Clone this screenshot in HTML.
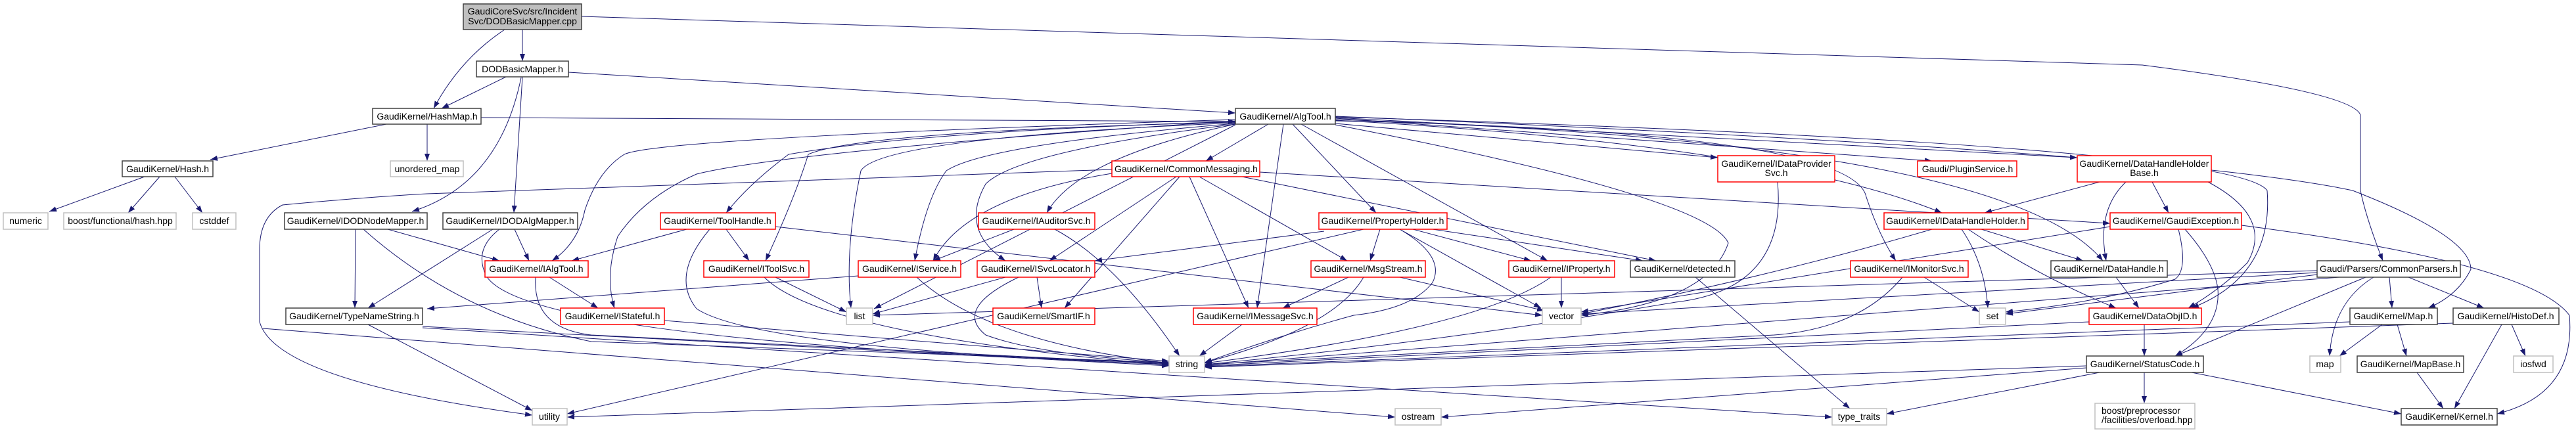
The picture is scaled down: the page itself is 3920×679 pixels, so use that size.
<!DOCTYPE html>
<html><head><meta charset="utf-8"><style>
html,body{margin:0;padding:0;background:#fff;}
svg{display:block;}
text{font-family:"Liberation Sans",sans-serif;font-size:14px;fill:#000;}
</style></head><body>
<svg width="3920" height="679" viewBox="0 0 3920 679" xmlns="http://www.w3.org/2000/svg">
<defs><marker id="a" markerWidth="11" markerHeight="8" refX="11" refY="4" orient="auto" markerUnits="userSpaceOnUse"><path d="M0,0 L11,4 L0,8 z" fill="#191970"/></marker></defs>
<g fill="none" stroke="#191970" stroke-width="1" marker-end="url(#a)">
<!-- cpp -->
<path d="M768,45 Q700,90 660,165"/>
<path d="M795,45 L795,93"/>
<path d="M885,25 L3260,99 Q3580,140 3592,175 L3592,290 Q3600,330 3626,397"/>
<!-- DOD h -->
<path d="M770,117 L672,165"/>
<path d="M865,110 L1880,172"/>
<path d="M793,118 Q760,280 627,322"/>
<path d="M795,117 L782,324"/>
<!-- HashMap -->
<path d="M588,189 L320,243"/>
<path d="M650,189 L650,245"/>
<path d="M732,179 L1880,185"/>
<!-- Hash -->
<path d="M220,269 L75,322"/>
<path d="M243,269 L195,324"/>
<path d="M266,269 L308,324"/>
<!-- AlgTool -->
<path d="M1880,182 Q1000,210 950,235 Q910,260 890,320 Q880,370 840,397"/>
<path d="M1880,184 Q1200,230 1060,265 Q980,300 940,360 Q920,420 935,469"/>
<path d="M1880,185 Q1400,200 1200,235 Q1140,280 1105,324"/>
<path d="M1880,186 Q1310,200 1230,235 Q1210,300 1165,397"/>
<path d="M1880,187 Q1340,210 1310,260 Q1285,380 1295,469"/>
<path d="M1880,188 Q1500,220 1440,260 Q1410,300 1392,397"/>
<path d="M1880,189 Q1550,230 1500,280 Q1460,350 1530,397"/>
<path d="M1880,189 Q1640,240 1593,324"/>
<path d="M1930,189 L1835,245"/>
<path d="M1953,189 L1913,469"/>
<path d="M1967,189 L2094,324"/>
<path d="M1980,189 L2355,397"/>
<path d="M2032,188 L2614,240"/>
<path d="M2032,180 L2940,245"/>
<path d="M2032,179 L3161,240"/>
<path d="M2032,183 Q2700,220 2955,324"/>
<path d="M2032,184 Q2820,200 2840,300 Q2860,360 2885,397"/>
<path d="M2032,182 Q3050,215 3200,397"/>
<path d="M2032,178 Q3400,220 3450,290 Q3460,420 3335,469"/>
<path d="M2032,177 Q3300,230 3580,290 Q3760,360 3760,410 Q3740,450 3695,469"/>
<path d="M2032,190 Q2600,300 2630,370 Q2600,460 2406,480"/>
<path d="M1880,190 L1330,470"/>
<!-- CommonMessaging -->
<path d="M1692,264 Q1470,300 1420,397"/>
<path d="M1790,269 L1597,397"/>
<path d="M1795,269 L1620,469"/>
<path d="M1810,269 L1900,469"/>
<path d="M1825,269 L2050,397"/>
<path d="M1890,269 L2520,397"/>
<path d="M1917,262 L3211,340"/>
<path d="M1692,258 L650,295 Q560,300 430,312 Q395,330 395,380 L395,490 Q420,580 810,632"/>
<!-- ToolHandle -->
<path d="M1045,349 L870,397"/>
<path d="M1105,349 L1140,397"/>
<path d="M1180,345 L2347,480"/>
<path d="M1080,349 Q1020,420 1060,470 Q1150,530 1779,555"/>
<!-- IDODAlgMapper -->
<path d="M783,349 L805,397"/>
<path d="M750,349 L560,469"/>
<path d="M760,349 Q720,380 740,420 Q800,520 1779,553"/>
<!-- IDODNodeMapper -->
<path d="M541,349 L540,469"/>
<path d="M590,349 L760,397"/>
<path d="M553,349 Q700,480 900,520 L1779,552"/>
<!-- IAlgTool -->
<path d="M836,422 L910,469"/>
<path d="M815,422 Q810,500 900,510 L1779,554"/>
<!-- IToolSvc, IStateful -->
<path d="M1180,422 L1288,475"/>
<path d="M1163,422 Q1250,510 1779,556"/>
<path d="M1011,488 L1779,550"/>
<!-- TypeNameString -->
<path d="M643,497 L1779,557"/>
<path d="M560,494 L810,625"/>
<path d="M643,499 L2788,635"/>
<path d="M400,500 L2123,635"/>
<!-- IService, ISvcLocator -->
<path d="M1395,422 Q1500,520 1779,553"/>
<path d="M1306,420 L650,470"/>
<path d="M1530,422 L1328,478"/>
<path d="M1550,422 Q1450,470 1500,510 Q1580,540 1779,552"/>
<path d="M1578,422 L1585,469"/>
<!-- IAuditorSvc -->
<path d="M1543,349 L1420,397"/>
<path d="M1605,349 Q1700,400 1795,542"/>
<!-- IMessageSvc -->
<path d="M1890,494 L1825,542"/>
<!-- PropertyHolder -->
<path d="M2100,349 L2085,397"/>
<path d="M2150,349 L2330,397"/>
<path d="M2180,349 L2500,397"/>
<path d="M2130,349 L2345,469"/>
<path d="M2015,352 L1666,397"/>
<path d="M2130,349 Q2200,390 2180,430 Q2150,470 2060,480 Q1950,510 1833,552"/>
<path d="M2075,349 L863,630"/>
<!-- MsgStream -->
<path d="M2052,422 L1952,469"/>
<path d="M2075,422 Q2030,500 1833,552"/>
<path d="M2130,422 L2350,473"/>
<!-- IProperty -->
<path d="M2376,422 L2376,469"/>
<path d="M2360,422 Q2250,500 1833,553"/>
<!-- detected -->
<path d="M2580,422 L2815,622"/>
<!-- IDataProviderSvc -->
<path d="M2705,277 Q2720,440 2550,460 Q2200,520 1833,555"/>
<!-- IDataHandleHolder -->
<path d="M2985,349 Q3020,400 3025,469"/>
<path d="M3015,349 L3170,397"/>
<path d="M2995,349 Q3100,420 3220,469"/>
<path d="M2940,349 Q2700,420 2406,478"/>
<!-- DHHB -->
<path d="M3195,277 L3020,324"/>
<path d="M3275,277 L3300,324"/>
<path d="M3235,277 Q3190,320 3205,397"/>
<path d="M3360,277 Q3460,330 3420,400 Q3380,440 3330,469"/>
<!-- GaudiException -->
<path d="M3325,349 Q3370,400 3375,440 Q3380,500 3310,542"/>
<path d="M3411,343 Q3850,400 3910,480 Q3920,600 3800,630"/>
<path d="M3315,349 Q3330,410 3310,425 Q3200,460 3052,475"/>
<path d="M3211,345 L2406,475"/>
<!-- DataHandle, IMonitorSvc -->
<path d="M3220,422 L3255,469"/>
<path d="M2928,422 L3012,475"/>
<path d="M2895,422 Q2830,500 2700,510 Q2300,530 1833,555"/>
<!-- DataObjID -->
<path d="M3263,494 L3263,542"/>
<path d="M3179,490 L1833,557"/>
<!-- StatusCode -->
<path d="M3263,567 L3263,614"/>
<path d="M3335,567 L3654,630"/>
<path d="M3195,567 L2871,630"/>
<path d="M3175,560 L2193,635"/>
<path d="M3175,557 L863,635"/>
<!-- CommonParsers -->
<path d="M3636,422 L3640,469"/>
<path d="M3665,422 L3780,469"/>
<path d="M3612,422 Q3550,460 3545,542"/>
<path d="M3600,422 L3310,542"/>
<path d="M3526,415 L2406,478"/>
<path d="M3526,418 L3052,478"/>
<path d="M3560,422 L1833,556"/>
<path d="M3526,412 L1328,480"/>
<!-- Map, HistoDef, MapBase -->
<path d="M3625,494 L3560,542"/>
<path d="M3648,494 L3662,542"/>
<path d="M3576,490 L1833,558"/>
<path d="M3807,494 L3735,622"/>
<path d="M3822,494 L3843,542"/>
<path d="M3733,492 L1833,559"/>
<path d="M3678,567 L3718,622"/>
</g>
<g stroke-width="1.5" fill="#fff">
<rect x="705" y="6" width="180" height="39" fill="#bfbfbf" stroke="#404040"/>
<rect x="725" y="93" width="140" height="24" stroke="#404040"/>
<rect x="567" y="165" width="165" height="24" stroke="#404040"/>
<rect x="1880" y="165" width="152" height="24" stroke="#404040"/>
<rect x="186" y="245" width="138" height="24" stroke="#404040"/>
<rect x="594" y="245" width="111" height="24" stroke="#c0c0c0"/>
<rect x="1692" y="245" width="225" height="24" stroke="#ff0000"/>
<rect x="2614" y="237" width="178" height="40" stroke="#ff0000"/>
<rect x="2918" y="245" width="151" height="24" stroke="#ff0000"/>
<rect x="3161" y="237" width="204" height="40" stroke="#ff0000"/>
<rect x="5" y="324" width="68" height="25" stroke="#c0c0c0"/>
<rect x="97" y="324" width="171" height="25" stroke="#c0c0c0"/>
<rect x="293" y="324" width="66" height="25" stroke="#c0c0c0"/>
<rect x="433" y="324" width="217" height="25" stroke="#404040"/>
<rect x="674" y="324" width="205" height="25" stroke="#404040"/>
<rect x="1005" y="324" width="175" height="25" stroke="#ff0000"/>
<rect x="1489" y="324" width="177" height="25" stroke="#ff0000"/>
<rect x="2007" y="324" width="195" height="25" stroke="#ff0000"/>
<rect x="2867" y="324" width="219" height="25" stroke="#ff0000"/>
<rect x="3211" y="324" width="200" height="25" stroke="#ff0000"/>
<rect x="738" y="397" width="157" height="25" stroke="#ff0000"/>
<rect x="1071" y="397" width="160" height="25" stroke="#ff0000"/>
<rect x="1306" y="397" width="156" height="25" stroke="#ff0000"/>
<rect x="1487" y="397" width="179" height="25" stroke="#ff0000"/>
<rect x="1995" y="397" width="174" height="25" stroke="#ff0000"/>
<rect x="2296" y="397" width="161" height="25" stroke="#ff0000"/>
<rect x="2481" y="397" width="159" height="25" stroke="#404040"/>
<rect x="2816" y="397" width="179" height="25" stroke="#ff0000"/>
<rect x="3121" y="397" width="177" height="25" stroke="#404040"/>
<rect x="3526" y="397" width="218" height="25" stroke="#404040"/>
<rect x="435" y="469" width="208" height="25" stroke="#404040"/>
<rect x="853" y="469" width="158" height="25" stroke="#ff0000"/>
<rect x="1288" y="469" width="40" height="25" stroke="#c0c0c0"/>
<rect x="1511" y="469" width="155" height="25" stroke="#ff0000"/>
<rect x="1816" y="469" width="188" height="25" stroke="#ff0000"/>
<rect x="2347" y="469" width="59" height="25" stroke="#c0c0c0"/>
<rect x="3012" y="469" width="40" height="25" stroke="#c0c0c0"/>
<rect x="3179" y="469" width="171" height="25" stroke="#ff0000"/>
<rect x="3576" y="469" width="133" height="25" stroke="#404040"/>
<rect x="3733" y="469" width="161" height="25" stroke="#404040"/>
<rect x="1779" y="542" width="54" height="25" stroke="#c0c0c0"/>
<rect x="3175" y="542" width="178" height="25" stroke="#404040"/>
<rect x="3515" y="542" width="47" height="25" stroke="#c0c0c0"/>
<rect x="3587" y="542" width="162" height="25" stroke="#404040"/>
<rect x="3825" y="542" width="60" height="25" stroke="#c0c0c0"/>
<rect x="810" y="622" width="53" height="25" stroke="#c0c0c0"/>
<rect x="2123" y="622" width="70" height="25" stroke="#c0c0c0"/>
<rect x="2788" y="622" width="83" height="25" stroke="#c0c0c0"/>
<rect x="3654" y="622" width="146" height="25" stroke="#404040"/>
<rect x="3188" y="614" width="152" height="39" stroke="#c0c0c0"/>
</g>
<g text-anchor="middle">
<text x="795" y="22">GaudiCoreSvc/src/Incident</text>
<text x="795" y="37">Svc/DODBasicMapper.cpp</text>
<text x="795" y="110">DODBasicMapper.h</text>
<text x="650" y="182">GaudiKernel/HashMap.h</text>
<text x="1956" y="182">GaudiKernel/AlgTool.h</text>
<text x="255" y="262">GaudiKernel/Hash.h</text>
<text x="650" y="262">unordered_map</text>
<text x="1805" y="262">GaudiKernel/CommonMessaging.h</text>
<text x="2703" y="254">GaudiKernel/IDataProvider</text>
<text x="2703" y="268">Svc.h</text>
<text x="2994" y="262">Gaudi/PluginService.h</text>
<text x="3263" y="254">GaudiKernel/DataHandleHolder</text>
<text x="3263" y="268">Base.h</text>
<text x="39" y="341">numeric</text>
<text x="183" y="341">boost/functional/hash.hpp</text>
<text x="326" y="341">cstddef</text>
<text x="541" y="341">GaudiKernel/IDODNodeMapper.h</text>
<text x="776" y="341">GaudiKernel/IDODAlgMapper.h</text>
<text x="1092" y="341">GaudiKernel/ToolHandle.h</text>
<text x="1577" y="341">GaudiKernel/IAuditorSvc.h</text>
<text x="2104" y="341">GaudiKernel/PropertyHolder.h</text>
<text x="2976" y="341">GaudiKernel/IDataHandleHolder.h</text>
<text x="3311" y="341">GaudiKernel/GaudiException.h</text>
<text x="816" y="414">GaudiKernel/IAlgTool.h</text>
<text x="1151" y="414">GaudiKernel/IToolSvc.h</text>
<text x="1384" y="414">GaudiKernel/IService.h</text>
<text x="1576" y="414">GaudiKernel/ISvcLocator.h</text>
<text x="2082" y="414">GaudiKernel/MsgStream.h</text>
<text x="2376" y="414">GaudiKernel/IProperty.h</text>
<text x="2560" y="414">GaudiKernel/detected.h</text>
<text x="2905" y="414">GaudiKernel/IMonitorSvc.h</text>
<text x="3209" y="414">GaudiKernel/DataHandle.h</text>
<text x="3635" y="414">Gaudi/Parsers/CommonParsers.h</text>
<text x="539" y="486">GaudiKernel/TypeNameString.h</text>
<text x="932" y="486">GaudiKernel/IStateful.h</text>
<text x="1308" y="486">list</text>
<text x="1588" y="486">GaudiKernel/SmartIF.h</text>
<text x="1910" y="486">GaudiKernel/IMessageSvc.h</text>
<text x="2376" y="486">vector</text>
<text x="3032" y="486">set</text>
<text x="3264" y="486">GaudiKernel/DataObjID.h</text>
<text x="3642" y="486">GaudiKernel/Map.h</text>
<text x="3813" y="486">GaudiKernel/HistoDef.h</text>
<text x="1806" y="559">string</text>
<text x="3264" y="559">GaudiKernel/StatusCode.h</text>
<text x="3538" y="559">map</text>
<text x="3668" y="559">GaudiKernel/MapBase.h</text>
<text x="3855" y="559">iosfwd</text>
<text x="836" y="639">utility</text>
<text x="2158" y="639">ostream</text>
<text x="2829" y="639">type_traits</text>
<text x="3727" y="639">GaudiKernel/Kernel.h</text>
</g>
<text x="3198" y="630">boost/preprocessor</text>
<text x="3198" y="644">/facilities/overload.hpp</text>
</svg>
</body></html>
